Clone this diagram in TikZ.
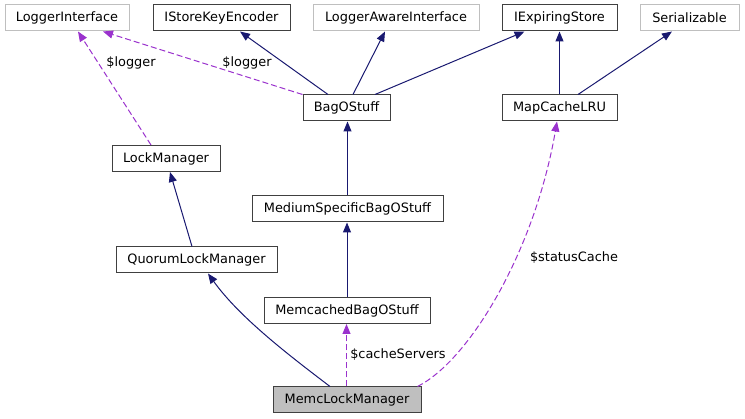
\documentclass[tikz,border=0pt]{standalone}
\usepackage{fontspec}
\setmainfont{DejaVu Sans}
\usetikzlibrary{arrows.meta}
\definecolor{navyedge}{HTML}{191970}
\definecolor{purpedge}{HTML}{9A32CD}
\definecolor{graybox}{HTML}{BFBFBF}
\definecolor{darkbox}{HTML}{404040}
\tikzset{
  cls/.style={draw=darkbox, line width=1pt, minimum height=26pt, inner sep=0pt,
    font=\fontsize{12.9}{15}\selectfont, text=black},
  extcls/.style={cls, draw=graybox},
  mainbox/.style={cls, fill=graybox},
  inherit/.style={draw=navyedge, line width=1pt, -{Triangle[length=10pt,width=8pt]}},
  usage/.style={draw=purpedge, line width=1pt, dash pattern=on 6pt off 3pt,
    -{Triangle[length=10pt,width=8pt,fill=purpedge]}},
  elabel/.style={font=\fontsize{12.9}{15}\selectfont, text=black, inner sep=0pt}
}
\begin{document}
\begin{tikzpicture}[x=1pt,y=-1pt]
\useasboundingbox (0,0) rectangle (745,419);
% top row
\node[extcls, minimum width=124pt] (LI) at (67,18) {LoggerInterface};
\node[cls, minimum width=137pt] (ISKE) at (221.5,18) {IStoreKeyEncoder};
\node[extcls, minimum width=166pt] (LAI) at (396,18) {LoggerAwareInterface};
\node[cls, minimum width=115pt] (IES) at (559.5,18) {IExpiringStore};
\node[extcls, minimum width=99pt] (SER) at (689.5,18) {Serializable};
% second row
\node[cls, minimum width=87pt] (BOS) at (346.5,108) {BagOStuff};
\node[cls, minimum width=115pt] (MCL) at (559.5,108) {MapCacheLRU};
\node[cls, minimum width=108pt] (LM) at (166,158.5) {LockManager};
\node[cls, minimum width=191pt] (MSB) at (347.5,209) {MediumSpecificBagOStuff};
\node[cls, minimum width=161pt] (QLM) at (196.5,260) {QuorumLockManager};
\node[cls, minimum width=166pt] (MBS) at (347,310.5) {MemcachedBagOStuff};
\node[mainbox, minimum width=148pt] (MLM) at (347,400) {MemcLockManager};
% inheritance edges
\draw[inherit] ([xshift=-18.5pt]BOS.north) -- ([xshift=18.5pt]ISKE.south);
\draw[inherit] ([xshift=6.5pt]BOS.north) -- ([xshift=-11pt]LAI.south);
\draw[inherit] ([xshift=28.5pt]BOS.north) -- ([xshift=-35pt]IES.south);
\draw[inherit] (MCL.north) -- (IES.south);
\draw[inherit] ([xshift=18.5pt]MCL.north) -- ([xshift=-17.5pt]SER.south);
\draw[inherit] (MSB.north) -- (MSB.north |- BOS.south);
\draw[inherit] ([xshift=-4.5pt]QLM.north) -- ([xshift=4pt]LM.south);
\draw[inherit] (MBS.north) -- (MBS.north |- MSB.south);
\draw[inherit] ([xshift=-17pt]MLM.north) .. controls (290,356) and (240,318) .. ([xshift=11.5pt]QLM.south);
% usage edges
\draw[usage] (BOS.north west) -- ([xshift=36pt]LI.south);
\node[elabel] (L1) at (247,63) {\$logger};
\draw[usage] ([xshift=-15pt]LM.north) -- ([xshift=11pt]LI.south);
\node[elabel] (L2) at (131,63) {\$logger};
\draw[usage] ([xshift=-0.5pt]MLM.north) -- ([xshift=-0.5pt]MBS.south);
\node[elabel] (L3) at (398,355) {\$cacheServers};
\draw[usage] ([xshift=-4pt]MLM.north east) .. controls (470,360) and (535,250) .. ([xshift=-2.5pt]MCL.south);
\node[elabel] (L4) at (574,258) {\$statusCache};
\end{tikzpicture}
\end{document}
